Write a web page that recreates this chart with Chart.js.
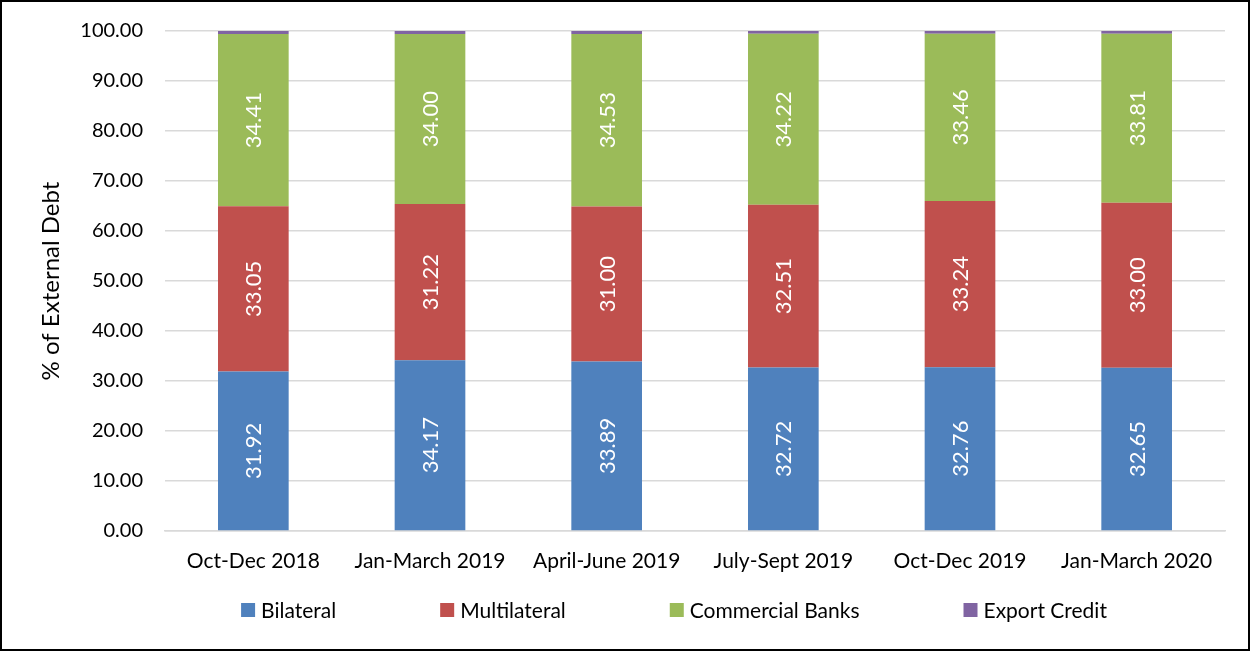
<!DOCTYPE html>
<html>
<head>
<meta charset="utf-8">
<script src="https://cdn.jsdelivr.net/npm/chart.js@4"></script>
<style>
  html, body { margin: 0; padding: 0; background: #fff; }
  #wrap { width: 1250px; height: 651px; box-sizing: border-box; border: 2px solid #000; }
</style>
</head>
<body>
<div id="wrap"><canvas id="debtChart" width="1246" height="647"></canvas></div>
<script>
const quarters = ['Oct-Dec 2018', 'Jan-March 2019', 'April-June 2019', 'July-Sept 2019', 'Oct-Dec 2019', 'Jan-March 2020'];
const bilateral = [31.92, 34.17, 33.89, 32.72, 32.76, 32.65];
const multilateral = [33.05, 31.22, 31.00, 32.51, 33.24, 33.00];
const commercialBanks = [34.41, 34.00, 34.53, 34.22, 33.46, 33.81];
const exportCredit = [0.62, 0.61, 0.58, 0.55, 0.54, 0.54];

const FONT = 'Lato, "Open Sans", sans-serif';

// white rotated values inside the bars (not on export credit)
const barLabels = {
    id: 'barLabels',
    afterDatasetsDraw(chart) {
        const ctx = chart.ctx;
        ctx.save();
        ctx.fillStyle = '#fff';
        ctx.font = '22px ' + FONT;
        ctx.textAlign = 'center';
        ctx.textBaseline = 'middle';
        chart.data.datasets.forEach((ds, i) => {
            if (ds.label === 'Export Credit') return;
            chart.getDatasetMeta(i).data.forEach((bar, j) => {
                const cy = (bar.y + bar.base) / 2;
                ctx.save();
                ctx.translate(bar.x, cy);
                ctx.rotate(-Math.PI / 2);
                ctx.fillText(ds.data[j].toFixed(2), 0, 1);
                ctx.restore();
            });
        });
        ctx.restore();
    }
};

// legend row under the axis, wider gaps than the built-in one allows
const bottomLegend = {
    id: 'bottomLegend',
    afterDraw(chart) {
        const ctx = chart.ctx;
        const box = 14, gap = 6, itemGap = 104;
        ctx.save();
        ctx.font = '21px ' + FONT;
        ctx.textBaseline = 'middle';
        const items = chart.data.datasets.map(ds => ({
            text: ds.label,
            color: ds.backgroundColor,
            w: box + gap + ctx.measureText(ds.label).width
        }));
        const total = items.reduce((s, it) => s + it.w, 0) + itemGap * (items.length - 1);
        let x = 672 - total / 2;
        const y = 608;
        items.forEach(it => {
            ctx.fillStyle = it.color;
            ctx.fillRect(x, y - box / 2, box, box);
            ctx.fillStyle = '#000';
            ctx.fillText(it.text, x + box + gap, y + 1);
            x += it.w + itemGap;
        });
        ctx.restore();
    }
};

const ctx = document.getElementById('debtChart').getContext('2d');
new Chart(ctx, {
    type: 'bar',
    data: {
        labels: quarters,
        datasets: [
            { label: 'Bilateral', data: bilateral, backgroundColor: '#4f81bd' },
            { label: 'Multilateral', data: multilateral, backgroundColor: '#c0504d' },
            { label: 'Commercial Banks', data: commercialBanks, backgroundColor: '#9bbb59' },
            { label: 'Export Credit', data: exportCredit, backgroundColor: '#8064a2' }
        ]
    },
    options: {
        responsive: false,
        animation: false,
        layout: { padding: { top: 29, right: 23, left: 35, bottom: 0 } },
        datasets: { bar: { barPercentage: 0.4, categoryPercentage: 1 } },
        scales: {
            x: {
                stacked: true,
                grid: { display: false },
                border: { color: '#d9d9d9', width: 1.5 },
                ticks: { color: '#000', font: { family: FONT, size: 21 }, padding: 10, maxRotation: 0 },
                afterFit(scale) { scale.height = 118; }
            },
            y: {
                stacked: true,
                min: 0,
                max: 100,
                grid: { color: '#d9d9d9', lineWidth: 1.5, drawTicks: false },
                border: { display: false },
                ticks: {
                    stepSize: 10,
                    color: '#000',
                    padding: 22,
                    font: { family: FONT, size: 20 },
                    callback: v => v.toFixed(2)
                },
                title: {
                    display: true,
                    text: '% of External Debt',
                    color: '#000',
                    font: { family: FONT, size: 24 },
                    padding: { top: 0, bottom: 0 }
                },
                afterFit(scale) {
                    scale.width = 128;
                    scale.paddingTop = 0;
                    scale.paddingBottom = 0;
                }
            }
        },
        plugins: {
            legend: { display: false },
            tooltip: { enabled: false }
        }
    },
    plugins: [barLabels, bottomLegend]
});
</script>
</body>
</html>
